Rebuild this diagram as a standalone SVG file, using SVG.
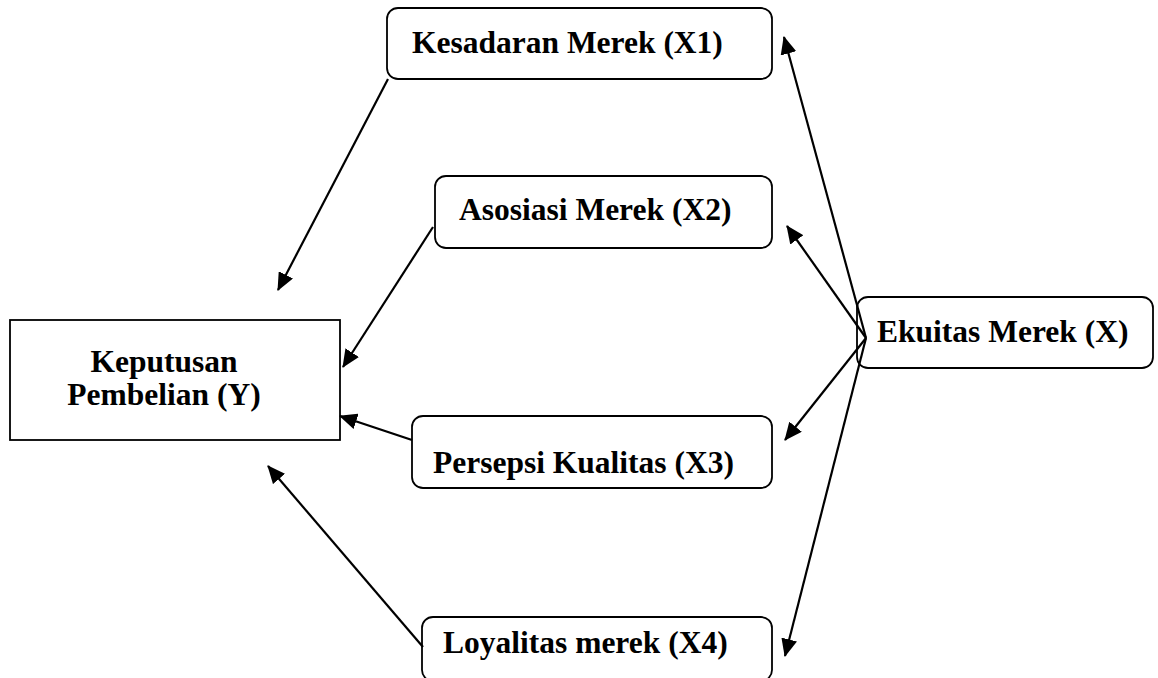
<svg xmlns="http://www.w3.org/2000/svg" width="1158" height="678" viewBox="0 0 1158 678">
<style>
.box{fill:#fff;stroke:#000;stroke-width:1.8}
.lbl{font-family:"Liberation Serif","Times New Roman",serif;font-weight:bold;font-size:31.5px;fill:#000}
.conn{stroke:#000;stroke-width:2.2;fill:none;marker-end:url(#ah)}
</style>
<defs>
<marker id="ah" markerUnits="userSpaceOnUse" markerWidth="18" markerHeight="16" viewBox="0 0 18 16" refX="17" refY="8" orient="auto">
<path d="M0,0 L18,8 L0,16 Z" fill="#000"/>
</marker>
</defs>
<g id="n-y">
<rect class="box" x="10" y="320" width="330" height="120"/>
<text class="lbl" x="164" y="372" text-anchor="middle">Keputusan</text>
<text class="lbl" x="164" y="405" text-anchor="middle">Pembelian (Y)</text>
</g>
<g id="n-x1">
<rect class="box" x="387" y="8" width="385" height="71" rx="11"/>
<text class="lbl" x="412" y="53">Kesadaran Merek (X1)</text>
</g>
<g id="n-x2">
<rect class="box" x="435" y="176" width="337" height="72" rx="11"/>
<text class="lbl" x="459" y="220">Asosiasi Merek (X2)</text>
</g>
<g id="n-x3">
<rect class="box" x="412" y="416" width="360" height="72" rx="11"/>
<text class="lbl" x="433" y="473">Persepsi Kualitas (X3)</text>
</g>
<g id="n-x4">
<rect class="box" x="422" y="617" width="350" height="64" rx="11"/>
<text class="lbl" x="443" y="653">Loyalitas merek (X4)</text>
</g>
<g id="n-x">
<rect class="box" x="857" y="297" width="296" height="71" rx="11"/>
<text class="lbl" x="877" y="342">Ekuitas Merek (X)</text>
</g>
<g id="connectors">
<line class="conn" x1="388" y1="79" x2="278" y2="290"/>
<line class="conn" x1="433" y1="227" x2="343" y2="367"/>
<line class="conn" x1="412" y1="440" x2="340" y2="416"/>
<line class="conn" x1="423" y1="647" x2="268" y2="466"/>
<line class="conn" x1="866" y1="338" x2="784" y2="37"/>
<line class="conn" x1="866" y1="338" x2="787" y2="226"/>
<line class="conn" x1="866" y1="338" x2="785" y2="440"/>
<line class="conn" x1="866" y1="338" x2="785" y2="656"/>
</g>
</svg>
